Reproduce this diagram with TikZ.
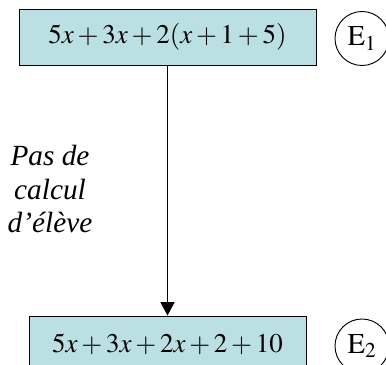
\documentclass[tikz,border=0pt]{standalone}
\usepackage{mathptmx}
\usepackage[no-math]{fontspec}
\setmainfont{Liberation Serif}
\usetikzlibrary{arrows.meta,positioning}
\definecolor{boxfill}{RGB}{187,224,227}
\begin{document}
\begin{tikzpicture}[x=0.03cm,y=-0.03cm,>={Triangle[length=0.4cm,width=0.42cm]},
   every node/.style={font=\fontsize{23}{27}\selectfont},
   expr/.style={draw,line width=0.8pt,fill=boxfill,inner sep=0pt,minimum height=1.68cm},
   tag/.style={draw,circle,line width=0.8pt,minimum size=1.62cm,inner sep=0pt,
     font=\fontsize{24.5}{28}\selectfont}]
  \clip (0,0) rectangle (386,365);
  \node[expr,minimum width=8.91cm] (top) at (167.5,37) {$5x+3x+2(x+1+5)$};
  \node[expr,minimum width=8.31cm] (bot) at (167.5,344) {$5x+3x+2x+2+10$};
  \node[tag] (eone) at (362,38.5) {$\mathrm{E}_1$};
  \node[tag] (etwo) at (362,346) {$\mathrm{E}_2$};
  \node[align=center,font=\fontsize{25}{29}\selectfont\itshape] (note) at (50,189)
    {Pas de\\calcul\\d’élève};
  \draw[->,line width=1.2pt] (top) -- (bot);
\end{tikzpicture}
\end{document}
